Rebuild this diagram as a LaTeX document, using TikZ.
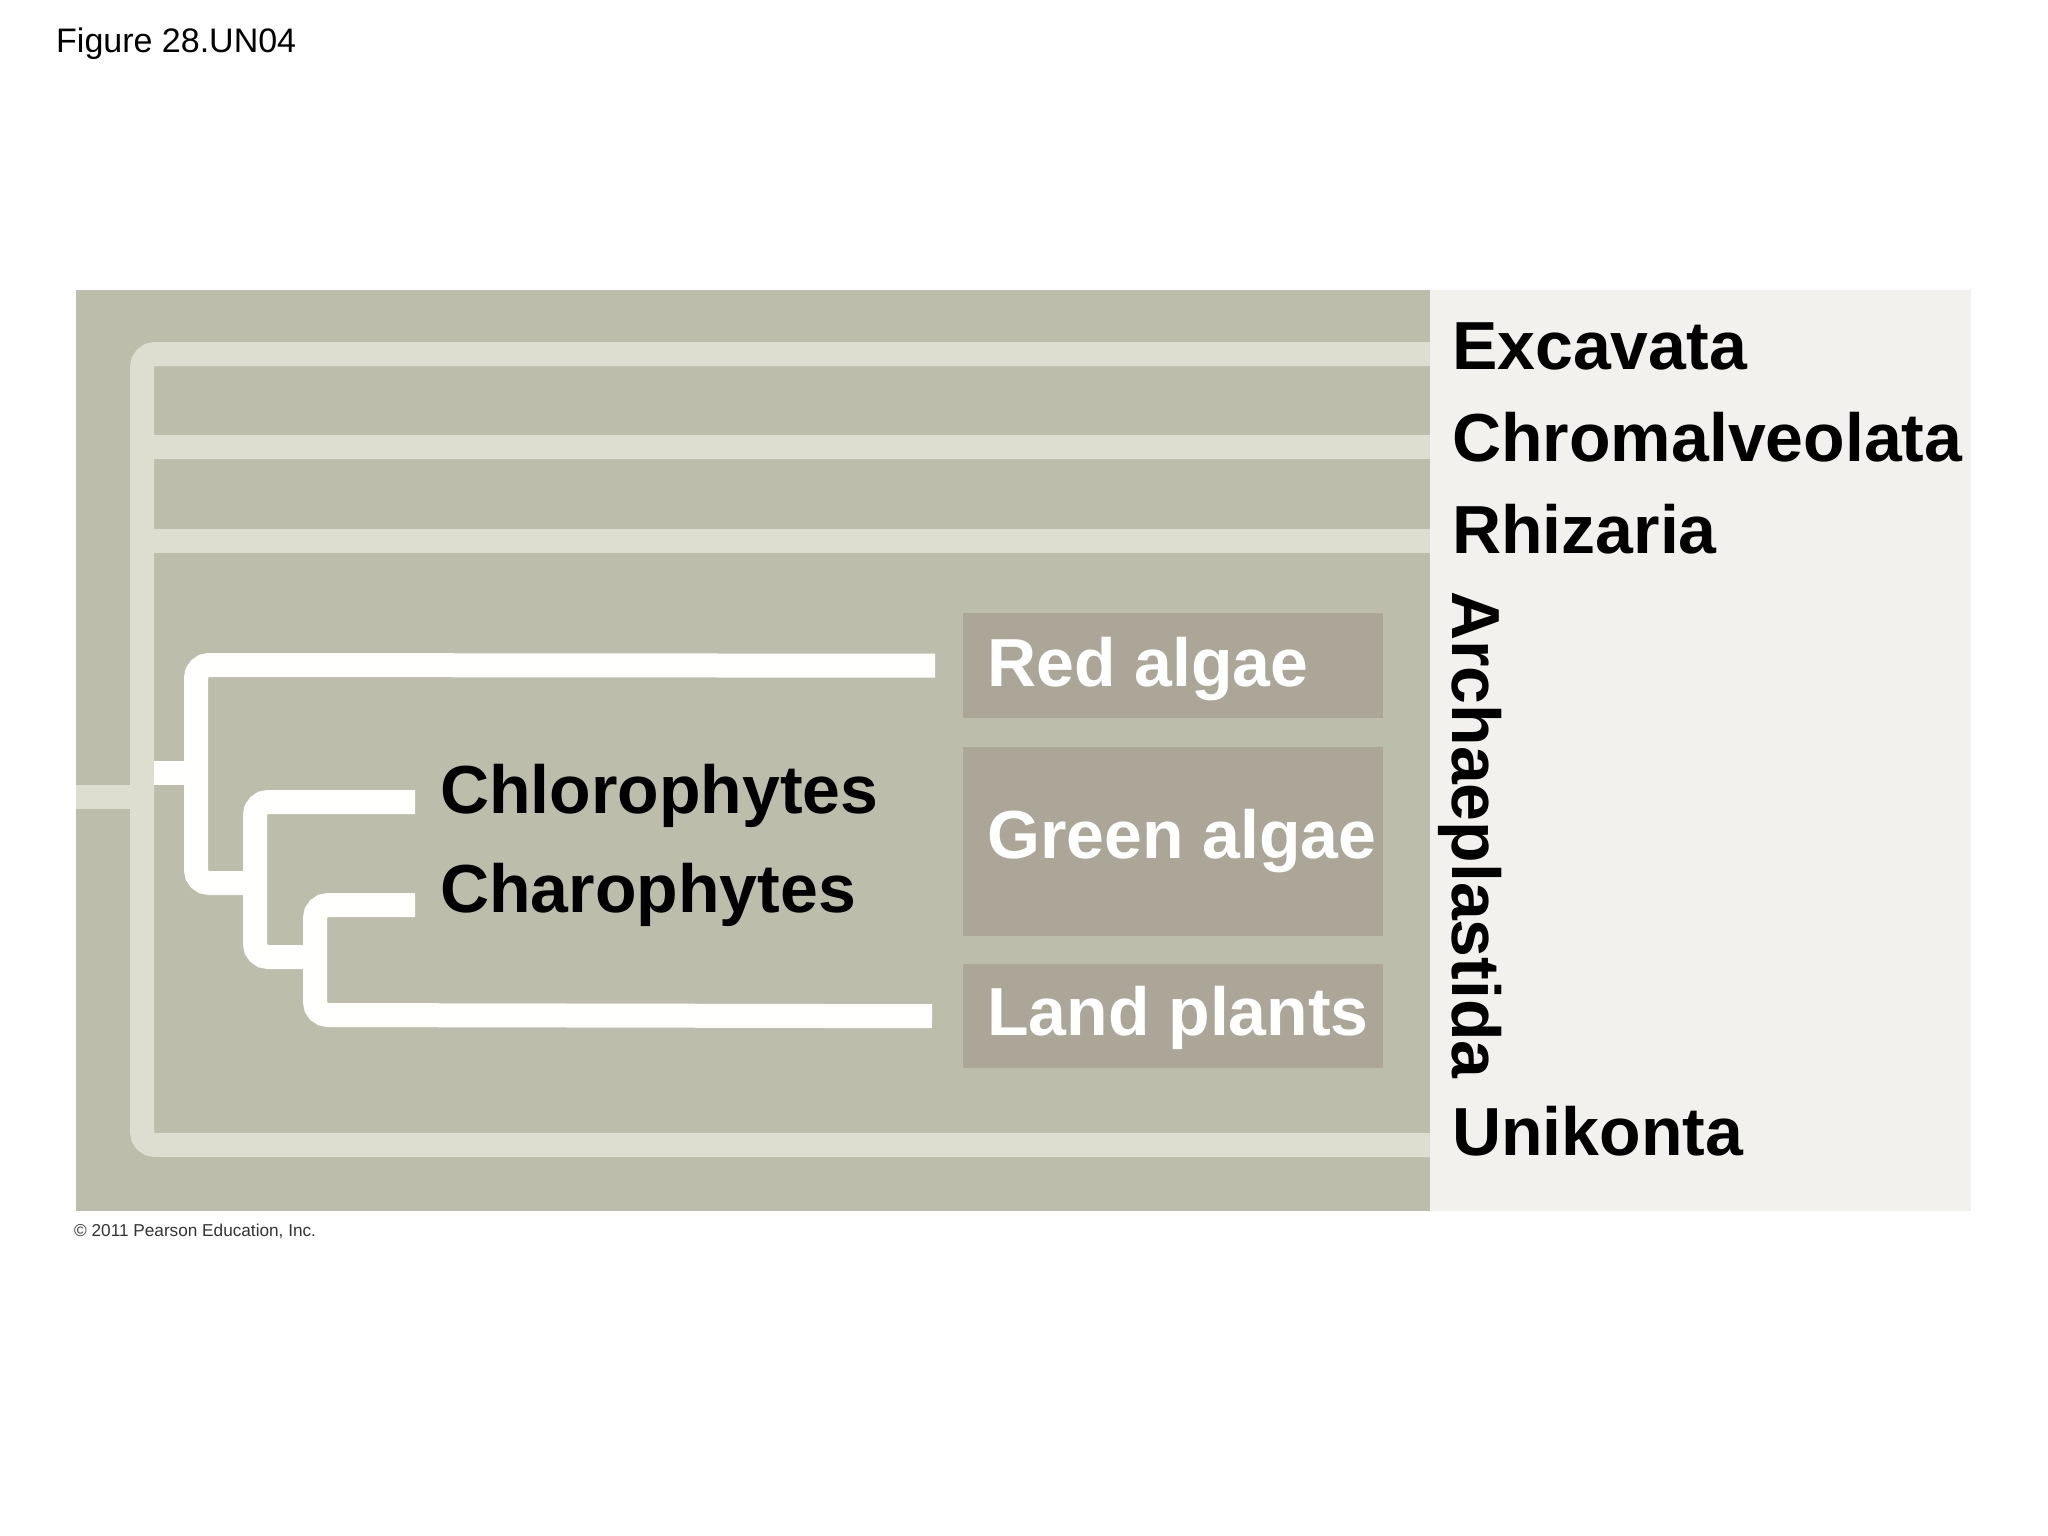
\documentclass[tikz,border=0pt]{standalone}
\usepackage{fontspec}
\setmainfont{Liberation Sans}
\definecolor{panelgray}{HTML}{BDBDAC}
\definecolor{rightpanel}{HTML}{F3F1ED}
\definecolor{lightline}{HTML}{DDDDD0}
\definecolor{boxgray}{HTML}{ABA697}
\definecolor{whiteline}{HTML}{FFFFFD}
\begin{document}
\begin{tikzpicture}[x=1pt,y=-1pt,
  outerln/.style={draw=lightline,line width=24pt,rounded corners=13pt},
  innerln/.style={draw=whiteline,line width=24pt,rounded corners=13pt},
  panelbox/.style={inner sep=0pt,anchor=north west,draw=none},
  boxstyle/.style={fill=boxgray,inner sep=0pt,anchor=north west,minimum width=420pt},
  lbl/.style={inner sep=0pt,anchor=base west,font=\fontsize{68}{80}\selectfont\bfseries},
]
\useasboundingbox (0,0) rectangle (2048,1536);
\fill[white] (0,0) rectangle (2048,1536);

% panels
\node[panelbox,fill=panelgray,minimum width=1354pt,minimum height=921pt] (gpanel) at (76,290) {};
\node[panelbox,fill=rightpanel,minimum width=541pt,minimum height=921pt] (rpanel) at (1430,290) {};

% taxon boxes
\node[boxstyle,minimum height=105pt] (redbox) at (963,613) {};
\node[boxstyle,minimum height=189pt] (greenbox) at (963,747) {};
\node[boxstyle,minimum height=104pt] (landbox) at (963,964) {};

% tree coordinates
\coordinate (root) at (76,797);
\coordinate (rootj) at (142,797);
\coordinate (excend) at (1430,354);
\coordinate (chrend) at (1430,447);
\coordinate (rhiend) at (1430,541);
\coordinate (uniend) at (1430,1145);
\coordinate (archstub) at (154,773);
\coordinate (ajoin) at (196,773);
\coordinate (chlend) at (415,802);
\coordinate (chaend) at (415,905);

% outer (light) tree
\draw[outerln] (excend) -- (142,354) -- (142,1145) -- (uniend);
\draw[outerln] (142,447) -- (chrend);
\draw[outerln] (142,541) -- (rhiend);
\draw[outerln] (root) -- (rootj);

% Archaeplastida (white) tree
\draw[innerln] (archstub) -- (ajoin);
\draw[innerln] ([xshift=-28pt]redbox.west) -- (196,665) -- (196,883) -- (255,883);
\draw[innerln] (chlend) -- (255,802) -- (255,957) -- (315,957);
\draw[innerln] (chaend) -- (315,905) -- (315,1015) -- ([xshift=-31pt]landbox.west);

% labels
\node[lbl] (excavata) at (1452,369) {Excavata};
\node[lbl] (chromalveolata) at (1452,461) {Chromalveolata};
\node[lbl] (rhizaria) at (1452,553) {Rhizaria};
\node[lbl,rotate=-90] (archaeplastida) at (1452,591) {Archaeplastida};
\node[lbl] (unikonta) at (1452,1155) {Unikonta};

\node[lbl,text=white] (redlbl) at (987,686) {Red algae};
\node[lbl,text=white] (greenlbl) at (987,858) {Green algae};
\node[lbl,text=white] (landlbl) at (987,1035) {Land plants};

\node[lbl] (chlorophytes) at (440,813) {Chlorophytes};
\node[lbl] (charophytes) at (440,912) {Charophytes};

\node[inner sep=0pt,anchor=base west,font=\fontsize{34}{40}\selectfont] (figlabel) at (56,53) {Figure 28.UN04};
\node[inner sep=0pt,anchor=base west,font=\fontsize{17.2}{20}\selectfont,text=black!80] (copyright) at (74,1236) {© 2011 Pearson Education, Inc.};
\end{tikzpicture}
\end{document}
